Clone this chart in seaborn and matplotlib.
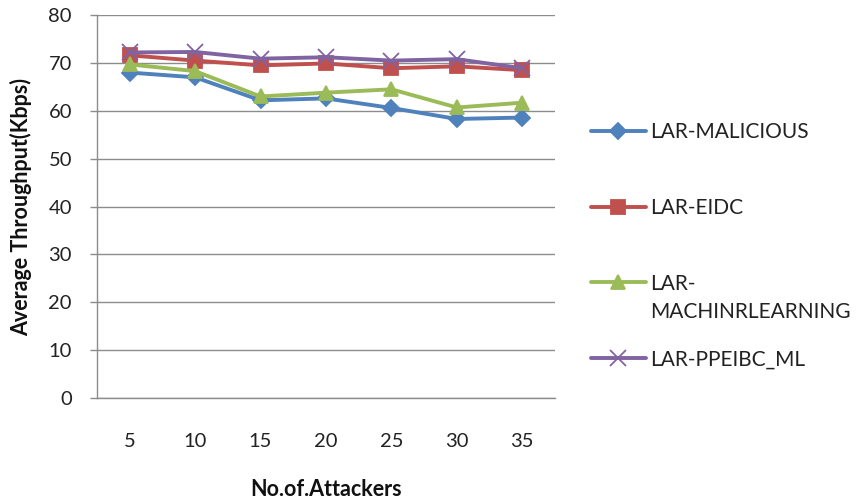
import matplotlib
matplotlib.use("Agg")
import matplotlib.pyplot as plt
from matplotlib.lines import Line2D
import seaborn as sns
import pandas as pd

# Number of attackers (x categories)
attackers = [5, 10, 15, 20, 25, 30, 35]

# Average throughput (Kbps) per scheme
lar_malicious = [68.0, 67.0, 62.2, 62.6, 60.6, 58.3, 58.6]
lar_eidc = [71.6, 70.5, 69.5, 69.9, 68.9, 69.3, 68.5]
lar_ml = [69.7, 68.3, 63.0, 63.8, 64.5, 60.7, 61.7]
lar_ppeibc = [72.2, 72.3, 70.9, 71.2, 70.5, 70.8, 68.9]

# Legend labels; the third one wraps onto a second line under its entry
series_names = ["LAR-MALICIOUS", "LAR-EIDC", "LAR-", "LAR-PPEIBC_ML"]
wrapped_tail = "MACHINRLEARNING"
y_ticks = [0, 10, 20, 30, 40, 50, 60, 70, 80]

series_values = [lar_malicious, lar_eidc, lar_ml, lar_ppeibc]
colors = ["#4F81BD", "#C0504D", "#9BBB59", "#8064A2"]
marker_styles = ["D", "s", "^", "x"]
marker_sizes = [8.5, 9.5, 10, 11]

sns.set_theme(style="white")
plt.rcParams["font.family"] = ["Lato", "DejaVu Sans"]

fig = plt.figure(figsize=(8.56, 5.04), dpi=100)
ax = fig.add_axes([0.1133, 0.2103, 0.535, 0.7597])

handles = []
for name, vals, c, m, ms in zip(series_names, series_values, colors, marker_styles, marker_sizes):
    d = pd.DataFrame({"attackers": attackers, "throughput": vals})
    sns.lineplot(data=d, x="attackers", y="throughput", color=c, marker=m,
                 markersize=ms, markerfacecolor=c, markeredgecolor=c,
                 markeredgewidth=1.3, linewidth=2.8, ax=ax)
    handles.append(Line2D([0], [0], color=c, marker=m, linewidth=2.8, markersize=ms,
                          markerfacecolor=c, markeredgecolor=c, markeredgewidth=1.3))

ax.set_xlim(2.5, 37.5)
ax.set_ylim(0, 80)
ax.set_xticks(attackers)
ax.set_xticklabels([str(a) for a in attackers])
ax.set_yticks(y_ticks)
ax.set_yticklabels([str(v) for v in y_ticks])

ax.grid(axis="y", color="#8C8C8C", linewidth=1.0)
ax.set_axisbelow(True)
for side in ["top", "right"]:
    ax.spines[side].set_visible(False)
for side in ["left", "bottom"]:
    ax.spines[side].set_color("#8C8C8C")
    ax.spines[side].set_linewidth(1.0)

ax.tick_params(axis="y", direction="out", length=5, width=1.0, color="#8C8C8C",
               pad=13, labelsize=14.5, labelcolor="#222222", left=True)
ax.tick_params(axis="x", length=0, pad=25, labelsize=14.5, labelcolor="#222222")

ax.set_xlabel("No.of.Attackers", fontsize=15.5, fontweight="bold", labelpad=21, color="#111111")
ax.set_ylabel("Average Throughput(Kbps)", fontsize=15.5, fontweight="bold", labelpad=12, color="#111111")

leg = fig.legend(handles, series_names, loc="upper left", bbox_to_anchor=(0.669, 0.795),
                 frameon=False, fontsize=15, labelspacing=2.68, handlelength=2.6,
                 handletextpad=0.2, labelcolor="#222222")

# Second line of the wrapped legend label, placed directly under "LAR-"
fig.canvas.draw()
renderer = fig.canvas.get_renderer()
bb = leg.get_texts()[2].get_window_extent(renderer)
line_h = bb.height * 1.4
fig.text(bb.x0 / fig.bbox.width, (bb.y0 - line_h) / fig.bbox.height, wrapped_tail,
         fontsize=15, color="#222222", ha="left", va="bottom")

fig.savefig("out.png", dpi=100)
